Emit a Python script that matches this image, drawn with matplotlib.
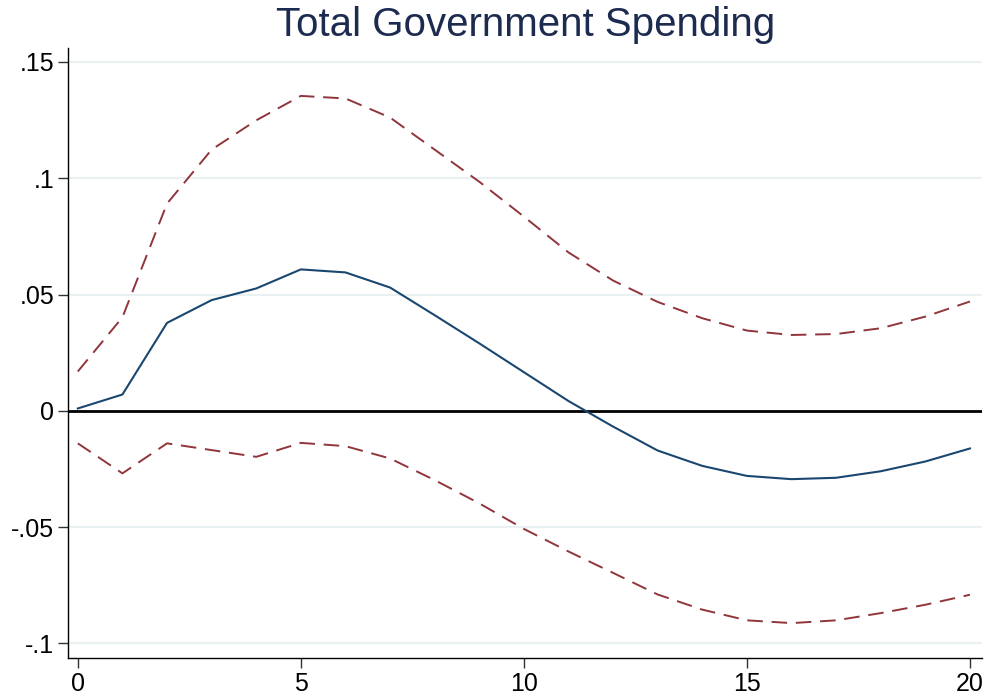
import numpy as np
import matplotlib
matplotlib.use('Agg')
import matplotlib.pyplot as plt

plt.rcParams['font.family'] = ['Liberation Sans', 'DejaVu Sans']

# Impulse response and confidence band
horizon = list(range(21))
irf = [0.001, 0.007, 0.0378, 0.0476, 0.0526, 0.0608, 0.0595, 0.0530, 0.0411, 0.0290,
       0.0166, 0.0042, -0.0068, -0.0171, -0.0237, -0.0280, -0.0294, -0.0288, -0.0260,
       -0.0218, -0.0162]
upper = [0.0169, 0.0402, 0.0891, 0.1123, 0.1249, 0.1354, 0.1343, 0.1261, 0.1123, 0.0985,
         0.0835, 0.0681, 0.0560, 0.0468, 0.0398, 0.0345, 0.0326, 0.0330, 0.0355, 0.0405,
         0.0470]
lower = [-0.0140, -0.0269, -0.0140, -0.0169, -0.0198, -0.0138, -0.0152, -0.0205, -0.0298,
         -0.0398, -0.0508, -0.0605, -0.0697, -0.0790, -0.0855, -0.0901, -0.0913, -0.0901,
         -0.0870, -0.0834, -0.0791]
yticks = [-0.1, -0.05, 0, 0.05, 0.1, 0.15]
ylabels = ['-.1', '-.05', '0', '.05', '.1', '.15']
xticks = [0, 5, 10, 15, 20]

fig = plt.figure(figsize=(9.84, 6.98), dpi=100)
ax = fig.add_axes([68 / 984, 1 - 658 / 698, (982 - 68) / 984, (658 - 48) / 698])

for y in yticks:
    ax.axhline(y, color='#eaf1f3', lw=1.5, zorder=0)
ax.axhline(0, color='black', lw=2, zorder=2)

ax.plot(horizon, upper, color='#90353b', lw=1.4, dashes=(8, 4.5), zorder=3)
ax.plot(horizon, lower, color='#90353b', lw=1.4, dashes=(8, 4.5), zorder=3)
ax.plot(horizon, irf, color='#1a476f', lw=1.5, zorder=4)

ax.set_xlim(-0.22, 20.27)
ax.set_ylim(-0.1063, 0.156)
ax.set_yticks(yticks)
ax.set_yticklabels(ylabels)
ax.set_xticks(xticks)
ax.tick_params(axis='both', direction='out', length=7, width=1, labelsize=18,
               color='#333333', pad=3)

for s in ['top', 'right']:
    ax.spines[s].set_visible(False)
for s in ['left', 'bottom']:
    ax.spines[s].set_color('black')
    ax.spines[s].set_linewidth(1)

fig.text(0.534, 0.964, 'Total Government Spending', ha='center', va='center',
         fontsize=29, color='#1c2b4f')

fig.savefig('out.png', dpi=100, facecolor='white')
